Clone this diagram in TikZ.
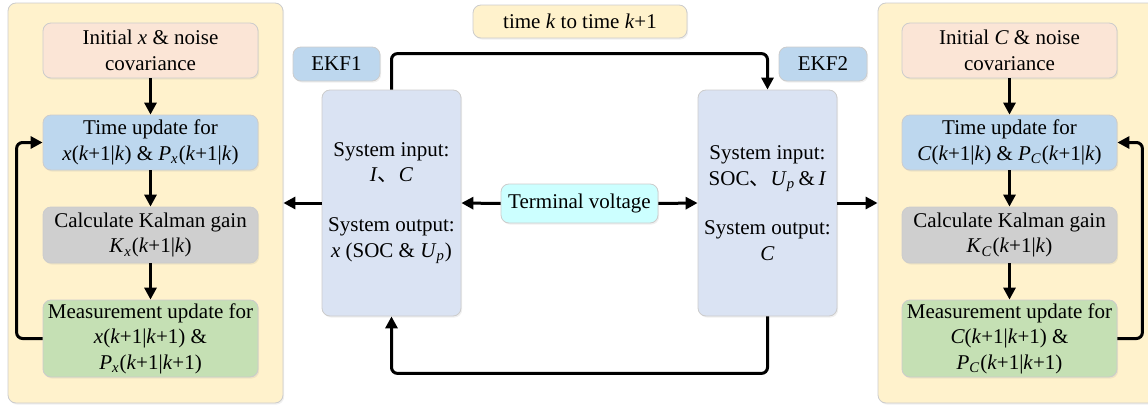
\documentclass[tikz,border=0pt]{standalone}
\usepackage{fontspec}
\setmainfont{Liberation Serif}
\newfontfamily\cjk{Noto Sans CJK SC}
\usetikzlibrary{arrows.meta,shadows}
\definecolor{panelc}{HTML}{FFF2CC}
\definecolor{initc}{HTML}{FBE5D6}
\definecolor{bluec}{HTML}{BDD7EE}
\definecolor{grayc}{HTML}{CFCFCF}
\definecolor{greenc}{HTML}{C5E0B4}
\definecolor{ekfc}{HTML}{DAE3F3}
\definecolor{termc}{HTML}{CCFFFF}
\newcommand{\ik}{\textit{k}}
\newcommand{\varsub}[2]{\textit{#1}\textsubscript{\textit{#2}}}
\begin{document}
\begin{tikzpicture}[x=0.5pt,y=-0.5pt]
\tikzstyle{box}=[draw=gray!40, line width=0.4pt, rounded corners=4pt, align=center, inner sep=0pt, font=\fontsize{10.5}{12.8}\selectfont, drop shadow={opacity=0.12,shadow xshift=0.6pt,shadow yshift=-0.8pt}]
\tikzstyle{step box}=[box, minimum width=107.5pt]
\tikzstyle{arr}=[line width=1.5pt, -{Triangle[length=6pt,width=6pt]}, rounded corners=3pt]
\useasboundingbox (0,0) rectangle (1148,407);

% left and right panels
\node [box, fill=panelc, minimum width=137.5pt, minimum height=200pt] (lpanel) at (145.5,203) {};
\node [box, fill=panelc, minimum width=140pt, minimum height=200pt] (rpanel) at (1018,203) {};

% EKF1 steps
\node [step box, fill=initc, minimum height=27.5pt] (linit) at (150.5,50.5) {Initial \textit{x} \& noise\\covariance};
\node [step box, fill=bluec, minimum height=27.5pt] (ltime) at (150.5,142.5) {Time update for\\\textit{x}(\ik+1|\ik) \& \varsub{P}{x}(\ik+1|\ik)};
\node [step box, fill=grayc, minimum height=28pt] (lgain) at (150.5,235) {Calculate Kalman gain\\\varsub{K}{x}(\ik+1|\ik)};
\node [step box, fill=greenc, minimum height=38.5pt] (lmeas) at (150.5,338.5) {Measurement update for\\\textit{x}(\ik+1|\ik+1) \&\\\varsub{P}{x}(\ik+1|\ik+1)};

% EKF2 steps
\node [step box, fill=initc, minimum height=27.5pt] (rinit) at (1009.5,50.5) {Initial \textit{C} \& noise\\covariance};
\node [step box, fill=bluec, minimum height=27.5pt] (rtime) at (1009.5,142.5) {Time update for\\\textit{C}(\ik+1|\ik) \& \varsub{P}{C}(\ik+1|\ik)};
\node [step box, fill=grayc, minimum height=28pt] (rgain) at (1009.5,235) {Calculate Kalman gain\\\varsub{K}{C}(\ik+1|\ik)};
\node [step box, fill=greenc, minimum height=38.5pt] (rmeas) at (1009.5,338.5) {Measurement update for\\\textit{C}(\ik+1|\ik+1) \&\\\varsub{P}{C}(\ik+1|\ik+1)};

% middle
\node [box, fill=panelc, minimum width=107pt, minimum height=16.5pt] (tstep) at (580,21.5) {time \ik{} to time \ik+1};
\node [box, fill=bluec, minimum width=43.5pt, minimum height=17pt] (lbla) at (336.5,64) {EKF1};
\node [box, fill=bluec, minimum width=44pt, minimum height=17pt] (lblb) at (823,64) {EKF2};
\node [box, fill=ekfc, minimum width=69.5pt, minimum height=113pt] (ekfa) at (391.5,203) {System input:\\\textit{I}{\cjk 、}\textit{C}\\[12pt]System output:\\\textit{x} (SOC \& \varsub{U}{p})};
\node [box, fill=ekfc, minimum width=69.5pt, minimum height=113pt] (ekfb) at (767.5,203) {System input:\\SOC{\cjk 、}\varsub{U}{p}\,\&\,\textit{I}\\[12pt]System output:\\\textit{C}};
\node [box, fill=termc, minimum width=78.5pt, minimum height=19.5pt] (term) at (579.5,203.5) {Terminal voltage};

% connectors
\draw [arr] (linit) -- (ltime);
\draw [arr] (ltime) -- (lgain);
\draw [arr] (lgain) -- (lmeas);
\draw [arr] (lmeas.west) -- ++(-26,0) |- (ltime.west);
\draw [arr] (rinit) -- (rtime);
\draw [arr] (rtime) -- (rgain);
\draw [arr] (rgain) -- (rmeas);
\draw [arr] (rmeas.east) -- ++(25,0) |- (rtime.east);

\draw [arr] (ekfa.north) -- ++(0,-36) -| (ekfb.north);
\draw [arr] (ekfb.south) -- ++(0,57) -| (ekfa.south);
\draw [arr] (term.west) -- (ekfa.east);
\draw [arr] (term.east) -- (ekfb.west);
\draw [arr] (ekfa.west) -- (lpanel.east);
\draw [arr] (ekfb.east) -- (rpanel.west);

\end{tikzpicture}
\end{document}
